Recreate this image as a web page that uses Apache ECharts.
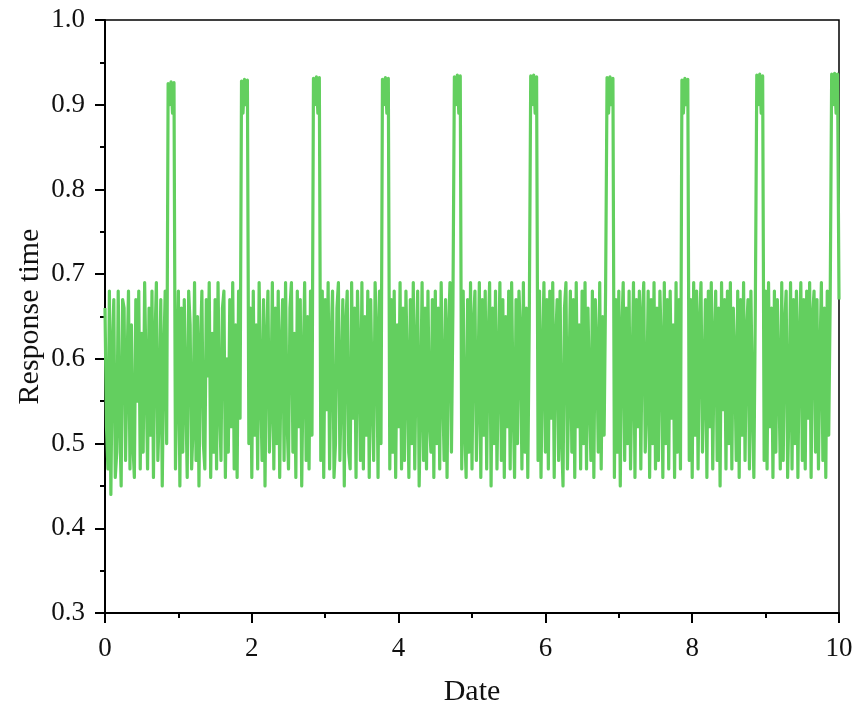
<!DOCTYPE html>
<html>
<head>
<meta charset="utf-8">
<script src="https://cdn.jsdelivr.net/npm/echarts@6/dist/echarts.min.js"></script>
<style>
html,body{margin:0;padding:0;background:#fff;}
#chart{width:858px;height:715px;}
</style>
</head>
<body>
<div id="chart"></div>
<script>
// Sampling step along the Date axis (one reading every 0.02 units)
const sampleStep = 0.02;
// Response time readings, in order from Date = 0 to Date = 10 (25 readings per row = 0.5 units)
const responseTime = [
  0.66,0.52,0.47,0.68,0.44,0.61,0.67,0.46,0.49,0.68,0.53,0.45,0.67,0.66,0.48,0.59,0.68,0.47,0.64,0.50,0.46,0.67,0.55,0.68,0.47,
  0.63,0.49,0.69,0.58,0.47,0.66,0.51,0.68,0.46,0.62,0.69,0.48,0.54,0.67,0.45,0.60,0.68,0.50,0.925,0.90,0.927,0.89,0.926,0.47,0.58,
  0.68,0.45,0.66,0.49,0.67,0.56,0.46,0.68,0.64,0.47,0.52,0.69,0.48,0.65,0.45,0.61,0.68,0.50,0.47,0.67,0.58,0.69,0.46,0.63,0.49,
  0.67,0.47,0.69,0.55,0.48,0.66,0.68,0.46,0.60,0.49,0.67,0.52,0.69,0.47,0.64,0.46,0.68,0.53,0.928,0.89,0.930,0.90,0.929,0.50,0.66,
  0.46,0.68,0.51,0.64,0.47,0.69,0.57,0.48,0.67,0.45,0.62,0.68,0.49,0.55,0.69,0.47,0.66,0.50,0.68,0.46,0.61,0.67,0.48,0.69,0.53,
  0.47,0.66,0.69,0.49,0.63,0.46,0.68,0.52,0.67,0.45,0.59,0.69,0.48,0.65,0.47,0.68,0.51,0.931,0.90,0.933,0.89,0.932,0.48,0.68,0.46,
  0.67,0.54,0.69,0.47,0.62,0.68,0.46,0.50,0.66,0.69,0.48,0.57,0.67,0.45,0.64,0.68,0.49,0.47,0.69,0.53,0.66,0.46,0.68,0.60,0.48,
  0.69,0.47,0.65,0.51,0.68,0.46,0.67,0.56,0.48,0.69,0.63,0.46,0.68,0.50,0.930,0.90,0.932,0.89,0.931,0.47,0.67,0.49,0.68,0.46,0.64,
  0.52,0.69,0.47,0.66,0.48,0.68,0.58,0.46,0.67,0.50,0.69,0.47,0.61,0.68,0.45,0.55,0.69,0.48,0.66,0.47,0.68,0.53,0.49,0.67,0.46,
  0.68,0.50,0.66,0.47,0.69,0.57,0.48,0.67,0.46,0.63,0.69,0.49,0.66,0.933,0.90,0.935,0.89,0.934,0.47,0.68,0.52,0.46,0.67,0.49,0.69,
  0.47,0.64,0.68,0.48,0.56,0.69,0.46,0.67,0.51,0.68,0.47,0.62,0.69,0.45,0.66,0.50,0.68,0.47,0.59,0.69,0.48,0.67,0.46,0.65,0.52,
  0.68,0.47,0.69,0.55,0.46,0.67,0.50,0.68,0.63,0.47,0.69,0.49,0.66,0.46,0.64,0.934,0.90,0.935,0.89,0.933,0.48,0.68,0.46,0.60,0.69,
  0.49,0.67,0.47,0.68,0.53,0.69,0.46,0.62,0.67,0.48,0.68,0.51,0.45,0.66,0.69,0.47,0.57,0.68,0.49,0.67,0.46,0.69,0.52,0.64,0.47,
  0.68,0.50,0.69,0.47,0.66,0.56,0.48,0.68,0.46,0.67,0.61,0.49,0.69,0.47,0.65,0.51,0.68,0.932,0.89,0.933,0.90,0.931,0.46,0.67,0.49,
  0.68,0.45,0.63,0.69,0.48,0.66,0.50,0.68,0.47,0.58,0.69,0.46,0.67,0.52,0.68,0.47,0.65,0.69,0.49,0.55,0.68,0.46,0.67,0.50,0.69,
  0.47,0.66,0.48,0.68,0.61,0.46,0.69,0.50,0.67,0.47,0.68,0.53,0.64,0.46,0.69,0.49,0.67,0.47,0.929,0.89,0.931,0.90,0.930,0.48,0.67,
  0.46,0.69,0.51,0.68,0.47,0.64,0.69,0.49,0.57,0.67,0.46,0.68,0.52,0.69,0.47,0.62,0.68,0.48,0.66,0.45,0.69,0.54,0.67,0.47,0.68,
  0.50,0.69,0.47,0.66,0.60,0.48,0.68,0.46,0.67,0.51,0.69,0.48,0.63,0.67,0.47,0.68,0.55,0.46,0.66,0.935,0.90,0.936,0.89,0.934,0.48,
  0.68,0.47,0.69,0.52,0.66,0.46,0.68,0.49,0.67,0.58,0.47,0.69,0.48,0.64,0.68,0.46,0.55,0.69,0.47,0.67,0.50,0.68,0.46,0.62,0.69,
  0.48,0.67,0.47,0.68,0.53,0.69,0.46,0.65,0.68,0.49,0.67,0.47,0.60,0.69,0.48,0.66,0.46,0.68,0.51,0.67,0.936,0.90,0.937,0.89,0.936,
  0.67
];
// Axis ranges and ticks
const xRange = [0, 10], xInterval = 2;
const yRange = [0.3, 1.0], yInterval = 0.1;
const xName = 'Date', yName = 'Response time';

const seriesData = responseTime.map((v, i) => [+(i * sampleStep).toFixed(2), v]);

const font = 'Liberation Serif, Times New Roman, serif';
const chart = echarts.init(document.getElementById('chart'), null, {renderer: 'canvas'});
chart.setOption({
  animation: false,
  backgroundColor: '#fff',
  grid: {left: 105, right: 19, top: 20, bottom: 102, show: true, borderColor: '#000', borderWidth: 1.5, backgroundColor: 'transparent'},
  xAxis: {
    type: 'value', min: xRange[0], max: xRange[1], interval: xInterval,
    name: xName, nameLocation: 'middle', nameGap: 64, nameMoveOverlap: false,
    nameTextStyle: {fontFamily: font, fontSize: 30, color: '#111'},
    axisLine: {show: true, lineStyle: {color: '#000', width: 2}},
    axisTick: {show: true, length: 10, lineStyle: {color: '#000', width: 2}},
    minorTick: {show: true, splitNumber: 2, length: 5, lineStyle: {color: '#000', width: 2}},
    axisLabel: {fontFamily: font, fontSize: 27, color: '#111', margin: 22},
    splitLine: {show: false}
  },
  yAxis: {
    type: 'value', min: yRange[0], max: yRange[1], interval: yInterval,
    name: yName, nameLocation: 'middle', nameGap: 60, nameMoveOverlap: false,
    nameTextStyle: {fontFamily: font, fontSize: 30, color: '#111'},
    axisLine: {show: true, lineStyle: {color: '#000', width: 2}},
    axisTick: {show: true, length: 10, lineStyle: {color: '#000', width: 2}},
    minorTick: {show: true, splitNumber: 2, length: 5, lineStyle: {color: '#000', width: 2}},
    axisLabel: {fontFamily: font, fontSize: 27, color: '#111', margin: 20, formatter: v => v.toFixed(1)},
    splitLine: {show: false}
  },
  series: [{
    type: 'line',
    data: seriesData,
    showSymbol: false,
    symbol: 'none',
    lineStyle: {color: '#63cf5f', width: 3.2, join: 'round'},
    itemStyle: {color: '#63cf5f'}
  }]
});
</script>
</body>
</html>
